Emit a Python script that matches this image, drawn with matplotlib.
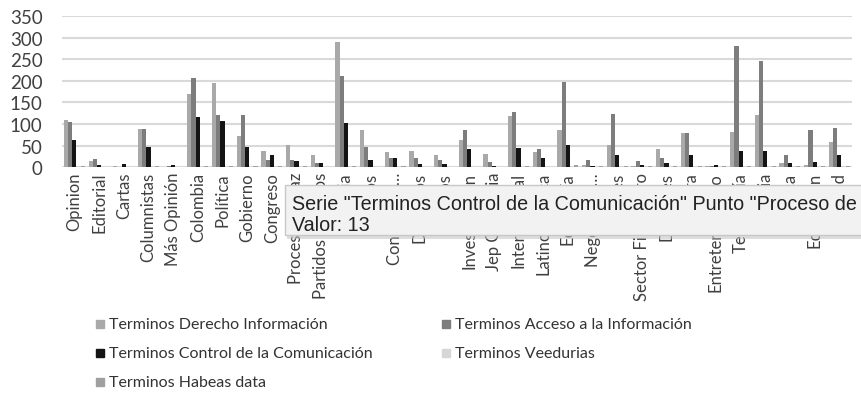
import numpy as np
import matplotlib.pyplot as plt
from matplotlib.patches import Rectangle

categorias = ["Opinion", "Editorial", "Cartas", "Columnistas", "Más Opinión", "Colombia",
              "Política", "Gobierno", "Congreso", "Proceso de Paz", "Partidos Políticos",
              "Justicia", "Medios", "Conflicto y…", "Derechos", "Delitos", "Investigación",
              "Jep Colombia", "Internacional", "Latinoamérica", "Economía", "Negocios y…",
              "Pymes", "Sector Financiero", "Deportes", "Cultura", "Entretenimiento",
              "Tecnología", "Ciencia", "Música", "Educación", "Salud"]

derecho = [108, 15, 2, 88, 1, 170, 196, 71, 38, 52, 28, 289, 85, 35, 38, 28,
           62, 30, 118, 35, 87, 5, 52, 3, 43, 78, 3, 81, 120, 9, 5, 58]
acceso = [105, 18, 1, 88, 2, 207, 120, 120, 16, 16, 10, 210, 47, 22, 20, 16,
          85, 12, 127, 41, 198, 16, 124, 14, 20, 78, 3, 281, 245, 28, 85, 90]
control = [62, 4, 7, 47, 4, 115, 107, 47, 28, 13, 10, 102, 16, 22, 7, 6,
           41, 3, 45, 20, 52, 3, 28, 4, 9, 28, 4, 38, 38, 10, 12, 28]
veedurias = [2, 1, 0, 2, 1, 2, 2, 2, 2, 2, 1, 2, 1, 2, 1, 1,
             1, 1, 2, 1, 2, 2, 2, 2, 2, 2, 3, 2, 2, 3, 2, 2]
habeas = [2, 1, 0, 2, 0, 2, 2, 2, 2, 2, 1, 2, 1, 2, 1, 1,
          1, 1, 2, 1, 4, 2, 2, 2, 2, 2, 3, 2, 2, 3, 2, 3]

series = ["Terminos Derecho Información", "Terminos Acceso a la Información",
          "Terminos Control de la Comunicación", "Terminos Veedurias", "Terminos Habeas data"]
colores = ["#a9a9a9", "#7d7d7d", "#141414", "#d6d6d6", "#a0a0a0"]

plt.rcParams['font.family'] = ['Lato', 'DejaVu Sans']

fig = plt.figure(figsize=(8.62, 4.06), dpi=100)
ax = fig.add_axes([0.072, 0.586, 0.916, 0.372])

x = np.arange(len(categorias))
w = 0.17
datos = [derecho, acceso, control, veedurias, habeas]
for i, (vals, c) in enumerate(zip(datos, colores)):
    ax.bar(x + (i - 2) * w, vals, width=w, color=c, zorder=3)

ax.set_xlim(-0.5, len(categorias) - 0.5)
ax.set_ylim(0, 350)
ax.set_yticks(range(0, 351, 50))
ax.yaxis.grid(True, color="#d9d9d9", linewidth=1.5, zorder=0)
for s in ax.spines.values():
    s.set_visible(False)
ax.tick_params(axis='both', length=0, colors="#404040")
ax.tick_params(axis='y', labelsize=13.5, pad=14)
ax.set_xticks(x)
ax.set_xticklabels(categorias, rotation=90, fontsize=12)

# leyenda manual en dos columnas
filas = [(0, 96, 325), (1, 442, 325), (2, 96, 354), (3, 442, 354), (4, 96, 383)]
for i, px, py in filas:
    fig.patches.append(Rectangle((px / 862, 1 - (py + 4) / 406), 8 / 862, 8 / 406,
                                 transform=fig.transFigure, color=colores[i]))
    fig.text((px + 13) / 862, 1 - py / 406, series[i], fontsize=11.5, color="#333333",
             va='center', ha='left')

# recuadro del tooltip (sale por el borde derecho como en la captura)
fig.patches.append(Rectangle((287 / 862, 1 - 240 / 406), 0.7, 52 / 406,
                             transform=fig.transFigure, facecolor="#bdbdbd", alpha=0.5,
                             edgecolor='none', zorder=9))
fig.patches.append(Rectangle((285 / 862, 1 - 236 / 406), 0.7, 50 / 406,
                             transform=fig.transFigure, facecolor="#f2f2f2",
                             edgecolor="#c8c8c8", linewidth=1, zorder=10))
fig.text(292 / 862, 1 - 205 / 406,
         'Serie "Terminos Control de la Comunicación" Punto "Proceso de',
         fontsize=14.2, color="#222222", family=['Liberation Sans', 'DejaVu Sans'],
         va='center', zorder=11)
fig.text(292 / 862, 1 - 226 / 406, 'Valor: 13', fontsize=14.2, color="#222222",
         family=['Liberation Sans', 'DejaVu Sans'], va='center', zorder=11)

fig.savefig("out.png", dpi=100)
